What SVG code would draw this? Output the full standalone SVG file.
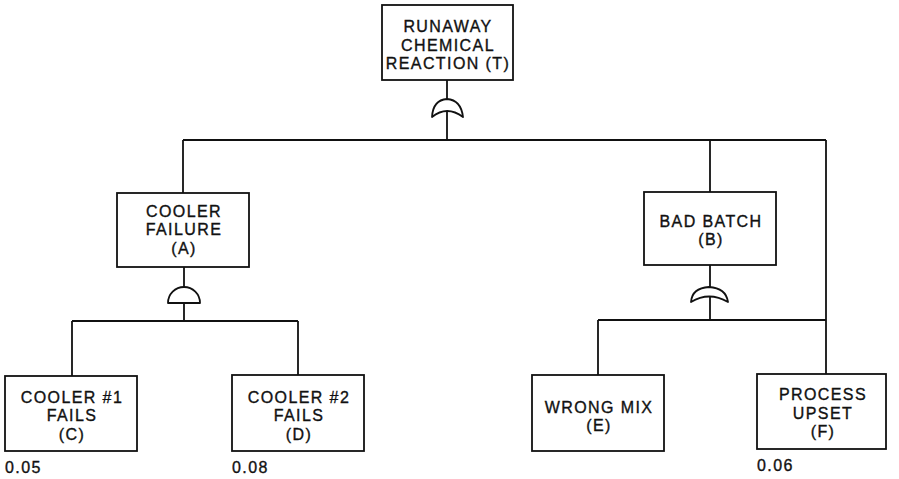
<svg xmlns="http://www.w3.org/2000/svg" width="899" height="479" viewBox="0 0 899 479">
<style>
.box{fill:#fff;stroke:#111;stroke-width:1.8}
.ln{fill:none;stroke:#111;stroke-width:1.8}
.gate{fill:#fff;stroke:#111;stroke-width:1.8;stroke-linejoin:round}
text{font-family:"Liberation Sans",Arial,sans-serif;font-size:16px;letter-spacing:1.4px;fill:#111;stroke:#111;stroke-width:0.35;text-anchor:middle}
.p{text-anchor:start}
</style>
<rect width="899" height="479" fill="#fff"/>
<g id="connectors">
<path class="ln" d="M447,80 V140 M183,140 H826 M183,140 V193 M826,140 V374 M710,140 V192"/>
<path class="ln" d="M184,267 V321 M72,321 H298 M72,321 V376 M298,321 V375"/>
<path class="ln" d="M710,265 V320 M598,320 H826 M598,320 V375"/>
</g>
<g id="gateT"><path class="gate" d="M432,117 Q433,100 447,99 Q461,100 463,117 Q447,105 432,117 Z"/></g>
<g id="gateA"><path class="gate" d="M168,303 A16,16 0 0 1 200,303 Z"/></g>
<g id="gateB"><path class="gate" d="M691,302 Q692,288 709,287 Q726,288 728,302 Q709,291 691,302 Z"/></g>
<g id="nodeT"><rect class="box" x="382" y="5" width="131" height="75"/>
<text x="448" y="32">RUNAWAY</text><text x="448" y="50.5">CHEMICAL</text><text x="448" y="69">REACTION (T)</text></g>
<g id="nodeA"><rect class="box" x="117" y="193" width="132" height="74"/>
<text x="184" y="216.5">COOLER</text><text x="184" y="235">FAILURE</text><text x="184" y="253.5">(A)</text></g>
<g id="nodeB"><rect class="box" x="644" y="192" width="132" height="73"/>
<text x="711" y="226.5">BAD BATCH</text><text x="711" y="245">(B)</text></g>
<g id="nodeC"><rect class="box" x="5" y="376" width="132" height="75"/>
<text x="72" y="402.5">COOLER #1</text><text x="72" y="421">FAILS</text><text x="72" y="439.5">(C)</text>
<text class="p" x="5" y="473">0.05</text></g>
<g id="nodeD"><rect class="box" x="232" y="375" width="132" height="76"/>
<text x="299" y="402.5">COOLER #2</text><text x="299" y="421">FAILS</text><text x="299" y="439.5">(D)</text>
<text class="p" x="232" y="473">0.08</text></g>
<g id="nodeE"><rect class="box" x="532" y="375" width="132" height="76"/>
<text x="599" y="412.5">WRONG MIX</text><text x="599" y="431">(E)</text></g>
<g id="nodeF"><rect class="box" x="757" y="374" width="129" height="75"/>
<text x="823" y="400">PROCESS</text><text x="823" y="418.5">UPSET</text><text x="823" y="437">(F)</text>
<text class="p" x="757" y="471">0.06</text></g>
</svg>
